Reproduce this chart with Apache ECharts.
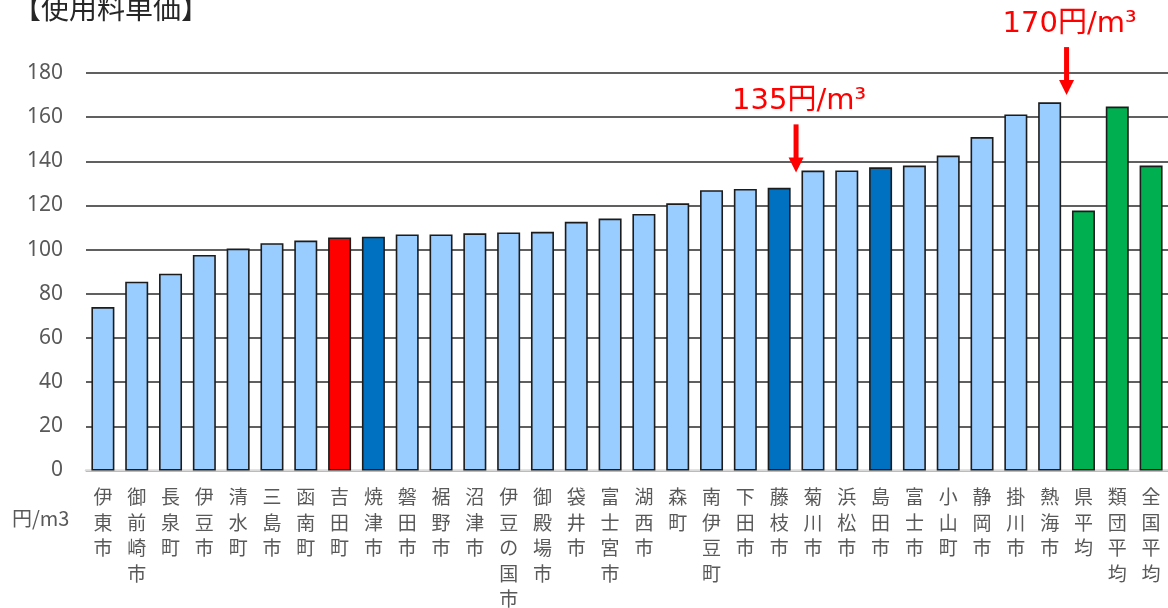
<!DOCTYPE html>
<html lang="ja">
<head>
<meta charset="utf-8">
<title>使用料単価</title>
<script src="https://cdn.jsdelivr.net/npm/echarts@6/dist/echarts.min.js"></script>
<style>
  html, body { margin: 0; padding: 0; background: #ffffff; }
  #chart { width: 1168px; height: 608px; }
</style>
</head>
<body>
<div id="chart"></div>
<script>
// 各市町の使用料単価（円/m3）
const categories = ['伊東市','御前崎市','長泉町','伊豆市','清水町','三島市','函南町','吉田町','焼津市','磐田市','裾野市','沼津市','伊豆の国市','御殿場市','袋井市','富士宮市','湖西市','森町','南伊豆町','下田市','藤枝市','菊川市','浜松市','島田市','富士市','小山町','静岡市','掛川市','熱海市','県平均','類団平均','全国平均'];
const values = [74.0, 85.5, 89.1, 97.6, 100.5, 102.9, 104.1, 105.5, 105.9, 106.9, 106.9, 107.4, 107.8, 108.1, 112.6, 114.1, 116.2, 121.0, 126.9, 127.5, 128.0, 135.8, 135.9, 137.3, 138.1, 142.6, 151.0, 161.2, 166.7, 117.7, 164.8, 138.1];
// 区分: 自町 / 近隣 / 平均 / その他
const groups = ['other','other','other','other','other','other','other','self','near','other','other','other','other','other','other','other','other','other','other','other','near','other','other','near','other','other','other','other','other','avg','avg','avg'];
const yTicks = { min: 0, max: 180, interval: 20 };
const unitLabel = '円/m3';
const titleText = '【使用料単価】';
// 矢印の注記（指定した市町と次の市町の間に置く）
const noteAfter = ['藤枝市', '熱海市'];
const noteValues = [135, 170];
const noteTexts = ['135円/m³', '170円/m³'];

const groupColor = { other: '#99CCFF', self: '#FF0000', near: '#0070C0', avg: '#00B050' };

const chart = echarts.init(document.getElementById('chart'), null, { renderer: 'canvas' });

const fixedTexts = [
  { type: 'text', left: 13, top: -6, style: { text: titleText, fill: '#262626', font: '28px "Noto Sans CJK JP", sans-serif' } },
  { type: 'text', left: 12, top: 508, style: { text: unitLabel, fill: '#595959', font: '20px "Noto Sans CJK JP", sans-serif' } }
];

chart.setOption({
  animation: false,
  backgroundColor: '#ffffff',
  textStyle: { fontFamily: '"Noto Sans CJK JP", "Noto Sans", sans-serif' },
  grid: { left: 86, right: 0, top: 73, bottom: 137.5, containLabel: false, outerBoundsMode: 'none' },
  xAxis: {
    type: 'category',
    data: categories,
    axisLine: { show: true, lineStyle: { color: '#d9d9d9', width: 2.5 } },
    axisTick: { show: false },
    axisLabel: {
      interval: 0,
      margin: 14,
      color: '#595959',
      fontSize: 19,
      lineHeight: 25.5,
      fontFamily: '"Noto Sans CJK JP", sans-serif',
      formatter: v => v.split('').join('\n')
    }
  },
  yAxis: {
    type: 'value',
    min: yTicks.min,
    max: yTicks.max,
    interval: yTicks.interval,
    axisLine: { show: false },
    axisTick: { show: false },
    axisLabel: { color: '#595959', fontSize: 21, margin: 23, fontFamily: '"Noto Sans", sans-serif' },
    splitLine: { lineStyle: { color: '#2b2b2b', width: 1.5 } }
  },
  series: [{
    type: 'bar',
    barWidth: '68%',
    data: values.map((v, i) => ({
      value: v,
      itemStyle: { color: groupColor[groups[i]] }
    })),
    itemStyle: { borderColor: '#1c1c1c', borderWidth: 1.6 }
  }],
  graphic: fixedTexts
});

// 矢印と注記を軸の座標から配置する
const notes = [];
noteAfter.forEach((name, k) => {
  const i = categories.indexOf(name);
  const a = chart.convertToPixel({ gridIndex: 0 }, [i, noteValues[k]]);
  const b = chart.convertToPixel({ gridIndex: 0 }, [i + 1, noteValues[k]]);
  const x = (a[0] + b[0]) / 2;
  const tip = a[1];
  const len = 48, headH = 15, headW = 15;
  notes.push({
    type: 'line',
    shape: { x1: x, y1: tip - len, x2: x, y2: tip - headH + 1 },
    style: { stroke: '#FF0000', lineWidth: 5 },
    z: 100
  });
  notes.push({
    type: 'polygon',
    shape: { points: [[x - headW / 2, tip - headH], [x + headW / 2, tip - headH], [x, tip]] },
    style: { fill: '#FF0000' },
    z: 100
  });
  notes.push({
    type: 'text',
    x: x + 3, y: tip - len - 8,
    style: {
      text: noteTexts[k],
      fill: '#FF0000',
      font: '29px "DejaVu Sans", "Noto Sans CJK JP", sans-serif',
      align: 'center',
      verticalAlign: 'bottom'
    },
    z: 100
  });
});

chart.setOption({ graphic: fixedTexts.concat(notes) }, { replaceMerge: ['graphic'] });
</script>
</body>
</html>
